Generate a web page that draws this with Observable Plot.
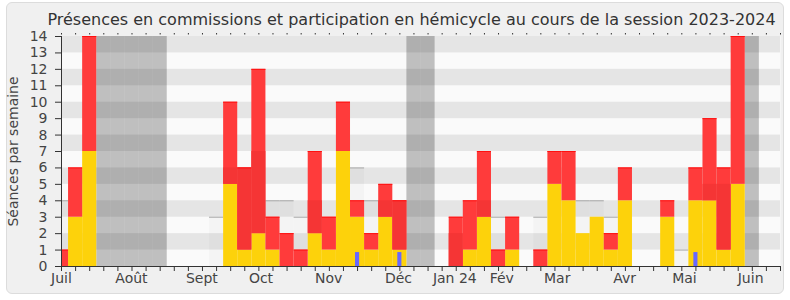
<!DOCTYPE html>
<html><head><meta charset="utf-8">
<script src="https://cdn.jsdelivr.net/npm/d3@7"></script>
<script src="https://cdn.jsdelivr.net/npm/@observablehq/plot@0.6"></script>
<style>
body{margin:0;background:#fff;font-family:"DejaVu Sans",sans-serif;width:790px;height:300px;overflow:hidden;position:relative;}
#frame{position:absolute;left:6px;top:2px;width:776px;height:290px;background:#f0f0f0;border:1px solid #dcdcdc;border-radius:6px;}
#title{position:absolute;left:33px;top:10px;width:757px;text-align:center;font-size:16px;color:#333;white-space:nowrap;line-height:19px;}
#chart{position:absolute;left:0;top:30px;}
</style></head>
<body>
<div id="frame"></div>
<div id="title">Présences en commissions et participation en hémicycle au cours de la session 2023-2024</div>
<div id="chart"></div>
<script>
// week index (0 = first week of July 2023)
const barWeeks      = [0,1,2,12,13,14,15,16,17,18,19,20,21,22,23,24,28,29,30,31,32,34,35,36,37,38,39,40,43,45,46,47,48];
const hemicycle     = [0,3,7, 5, 1, 2, 1, 0, 0, 2, 1, 7, 3, 1, 3, 1, 0, 1, 3, 0, 1, 0, 5, 4, 2, 3, 1, 4, 3, 4, 4, 1, 5];
const commission    = [1,3,7, 5, 5,10, 2, 2, 1, 5, 2, 3, 1, 1, 2, 3, 3, 3, 4, 1, 2, 1, 2, 3, 0, 0, 1, 2, 1, 2, 5, 5, 9];
const commissionAct = [0,0,0, 1, 5, 5, 0, 0, 0, 2, 0, 0, 0, 0, 1, 3, 2, 0, 1, 0, 0, 0, 0, 0, 0, 0, 0, 0, 0, 0, 1, 4, 0];
const medianWeeks   = [0,11,15,16,17,21,22,31,34,37,38,39,44];
const medianValues  = [4, 3, 4, 4, 3, 6, 4, 3, 3, 4, 4, 3, 1];
const questionWeeks = [21,24,45];
const questionValues= [1,1,1];
const vacationWeeks = [3,4,5,6,7,25,26,49];
const monthLabels   = ["Juil","Août","Sept","Oct","Nov","Déc","Jan 24","Fév","Mar","Avr","Mai","Juin"];
const monthPos      = [0,4.96,9.96,14.15,18.95,23.9,27.9,31.23,35.16,39.95,44.19,48.88];
const yTicks = d3.range(0, 15);
const weekTicks = d3.range(0, 52);

const bars = barWeeks.map((w,i)=>({w, h:hemicycle[i], c:commission[i], a:commissionAct[i]}));
const medians = medianWeeks.map((w,i)=>({w, v:medianValues[i]}));
const questions = questionWeeks.map((w,i)=>({w, v:questionValues[i]}));
const grayBands = yTicks.filter(d => d % 2 === 1);

const chart = Plot.plot({
  width: 790, height: 270,
  marginLeft: 61, marginRight: 10, marginTop: 6, marginBottom: 34,
  x: {domain: [0, 51], axis: null},
  y: {domain: [0, 14], axis: null},
  style: {background: "transparent", fontFamily: "DejaVu Sans", color: "#444", overflow: "visible"},
  marks: [
    Plot.frame({fill: "#fafafa", stroke: null}),
    Plot.rect(grayBands, {y1: d => d, y2: d => d + 1, fill: "#e5e5e5"}),
    Plot.rect(medians, {x1: d => d.w - 0.5, x2: d => d.w + 0.5, y1: 0, y2: "v", fill: "#000", fillOpacity: 0.025, clip: true}),
    Plot.ruleY(medians, {x1: d => d.w - 0.5, x2: d => d.w + 0.5, y: "v", stroke: "#a8a8a8", strokeWidth: 1, clip: true}),
    Plot.rect(vacationWeeks, {x1: d => d - 0.5, x2: d => d + 0.5, fill: "#000", fillOpacity: 0.235}),
    Plot.rect(bars, {x1: d => d.w - 0.5, x2: d => d.w + 0.5, y1: 0, y2: "h", fill: "#fdd20b", clip: true}),
    Plot.rect(bars.filter(d => d.c > 0), {x1: d => d.w - 0.5, x2: d => d.w + 0.5, y1: "h", y2: d => d.h + d.c, fill: "#ff3b3b", clip: true}),
    Plot.rect(bars.filter(d => d.a > 0), {x1: d => d.w - 0.5, x2: d => d.w + 0.5, y1: "h", y2: d => d.h + d.a, fill: "#f53535", clip: true}),
    Plot.ruleY(bars.filter(d => d.c > 0), {x1: d => d.w - 0.5, x2: d => d.w + 0.5, y: d => d.h + d.c, stroke: "#ff1010", strokeWidth: 1, clip: true}),
    Plot.rect(questions, {x1: d => d.w - 0.5, x2: d => d.w + 0.5, y1: 0, y2: "v", insetLeft: 5, insetRight: 5, insetTop: 2.5, fill: "#6868ff"}),
    // axes
    Plot.ruleX([0], {stroke: "#333"}),
    Plot.ruleY([0], {stroke: "#333"}),
    Plot.axisY({ticks: yTicks, tickSize: 6, tickPadding: 8, fontSize: 14, stroke: "#333", color: "#444", label: null}),
    Plot.axisX({ticks: weekTicks, tickSize: 5, tickFormat: () => "", stroke: "#333", label: null}),
    Plot.ruleX(weekTicks, {x: d => d, y1: 14, y2: 14, insetTop: -3, insetBottom: 1.5, stroke: "#333"}),
    Plot.text(monthLabels, {x: (d, i) => monthPos[i], frameAnchor: "bottom", dy: 12, lineAnchor: "middle", fontSize: 14, fill: "#444"}),
    Plot.text(["Séances par semaine"], {frameAnchor: "left", textAnchor: "middle", dx: -48, rotate: -90, fontSize: 14, fill: "#444"})
  ]
});
document.getElementById("chart").appendChild(chart);
</script>
</body></html>
